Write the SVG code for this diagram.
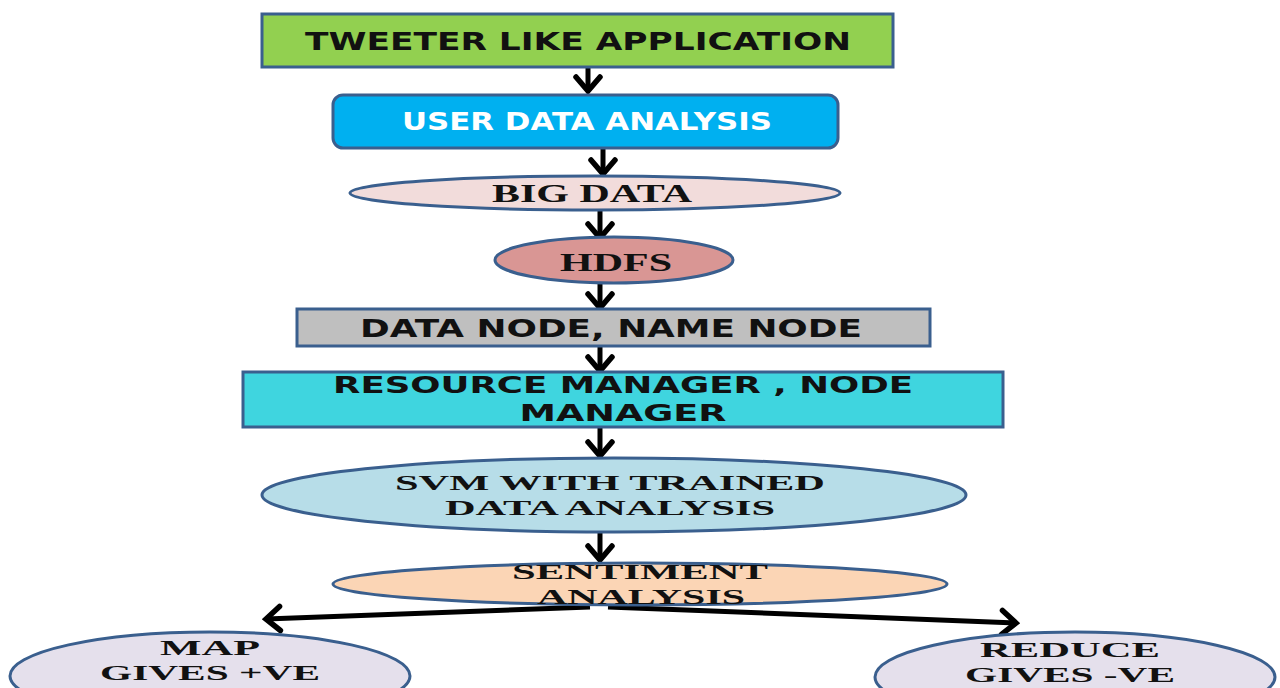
<svg xmlns="http://www.w3.org/2000/svg" width="1280" height="688" viewBox="0 0 1280 688">
<defs>
<marker id="chev" viewBox="-18 -16 22 32" markerWidth="22" markerHeight="32" refX="0" refY="0" orient="auto" markerUnits="userSpaceOnUse">
<path d="M-14,-12 L0,0 L-14,12" fill="none" stroke="#000" stroke-width="5.5" stroke-linecap="round" stroke-linejoin="miter"/>
</marker>
<style>
.shape{stroke:#3a5f8e;stroke-width:3}
.sans{font-family:"DejaVu Sans","Liberation Sans",sans-serif;font-weight:bold;font-size:25px;fill:#111}
.sans2{font-family:"DejaVu Sans","Liberation Sans",sans-serif;font-weight:bold;font-size:23px;fill:#111}
.serif{font-family:"Liberation Serif","DejaVu Serif",serif;font-weight:bold;font-size:26px;fill:#111}
.serif2{font-family:"Liberation Serif","DejaVu Serif",serif;font-weight:bold;font-size:22px;fill:#111}
.conn{stroke:#000;stroke-width:5;fill:none;marker-end:url(#chev)}
</style>
</defs>
<rect width="1280" height="688" fill="#fff"/>
<g id="connectors">
<line class="conn" x1="588" y1="67" x2="588" y2="91"/>
<line class="conn" x1="603" y1="148" x2="603" y2="174"/>
<line class="conn" x1="600" y1="210" x2="600" y2="238"/>
<line class="conn" x1="600" y1="283" x2="600" y2="308"/>
<line class="conn" x1="600" y1="346" x2="600" y2="371"/>
<line class="conn" x1="600" y1="427" x2="600" y2="456"/>
<line class="conn" x1="600" y1="532" x2="600" y2="560"/>
<line class="conn" x1="590" y1="607" x2="266" y2="619"/>
<line class="conn" x1="608" y1="607" x2="1016" y2="623"/>
</g>
<g id="n1">
<rect class="shape" x="262" y="14" width="631" height="53" fill="#92d050"/>
<text class="sans" x="578" y="50" text-anchor="middle" textLength="546" lengthAdjust="spacingAndGlyphs">TWEETER LIKE APPLICATION</text>
</g>
<g id="n2">
<rect class="shape" x="333" y="95" width="505" height="53" rx="10" fill="#00b0f0"/>
<text class="sans" x="587" y="130" text-anchor="middle" style="fill:#fff" textLength="370" lengthAdjust="spacingAndGlyphs">USER DATA ANALYSIS</text>
</g>
<g id="n3">
<ellipse class="shape" cx="595" cy="193" rx="245" ry="17" fill="#f2dcdb"/>
<text class="serif" x="592" y="202" text-anchor="middle" textLength="200" lengthAdjust="spacingAndGlyphs">BIG DATA</text>
</g>
<g id="n4">
<ellipse class="shape" cx="614" cy="260" rx="119" ry="23" fill="#d99694"/>
<text class="serif" x="616" y="271" text-anchor="middle" textLength="112" lengthAdjust="spacingAndGlyphs">HDFS</text>
</g>
<g id="n5">
<rect class="shape" x="297" y="309" width="633" height="37" fill="#bfbfbf"/>
<text class="sans" x="611" y="337" text-anchor="middle" textLength="502" lengthAdjust="spacingAndGlyphs">DATA NODE, NAME NODE</text>
</g>
<g id="n6">
<rect class="shape" x="243" y="372" width="760" height="55" fill="#3fd5df"/>
<text class="sans2" x="623" y="393" text-anchor="middle" textLength="580" lengthAdjust="spacingAndGlyphs">RESOURCE MANAGER , NODE</text>
<text class="sans2" x="623" y="421" text-anchor="middle" textLength="207" lengthAdjust="spacingAndGlyphs">MANAGER</text>
</g>
<g id="n7">
<ellipse class="shape" cx="614" cy="495" rx="352" ry="37" fill="#b7dde8"/>
<text class="serif2" x="610" y="490" text-anchor="middle" textLength="430" lengthAdjust="spacingAndGlyphs">SVM WITH TRAINED</text>
<text class="serif2" x="610" y="515" text-anchor="middle" textLength="330" lengthAdjust="spacingAndGlyphs">DATA ANALYSIS</text>
</g>
<g id="n8">
<ellipse class="shape" cx="640" cy="584" rx="307" ry="21" fill="#fbd5b5"/>
<text class="serif2" x="640" y="579" text-anchor="middle" textLength="256" lengthAdjust="spacingAndGlyphs">SENTIMENT</text>
<text class="serif2" x="641" y="604" text-anchor="middle" textLength="208" lengthAdjust="spacingAndGlyphs">ANALYSIS</text>
</g>
<g id="n9">
<ellipse class="shape" cx="210" cy="676" rx="200" ry="44" fill="#e5e0ec"/>
<text class="serif2" x="210" y="655" text-anchor="middle" textLength="100" lengthAdjust="spacingAndGlyphs">MAP</text>
<text class="serif2" x="210" y="680" text-anchor="middle" textLength="220" lengthAdjust="spacingAndGlyphs">GIVES +VE</text>
</g>
<g id="n10">
<ellipse class="shape" cx="1075" cy="677" rx="200" ry="45" fill="#e5e0ec"/>
<text class="serif2" x="1070" y="657" text-anchor="middle" textLength="180" lengthAdjust="spacingAndGlyphs">REDUCE</text>
<text class="serif2" x="1070" y="682" text-anchor="middle" textLength="210" lengthAdjust="spacingAndGlyphs">GIVES -VE</text>
</g>
</svg>
